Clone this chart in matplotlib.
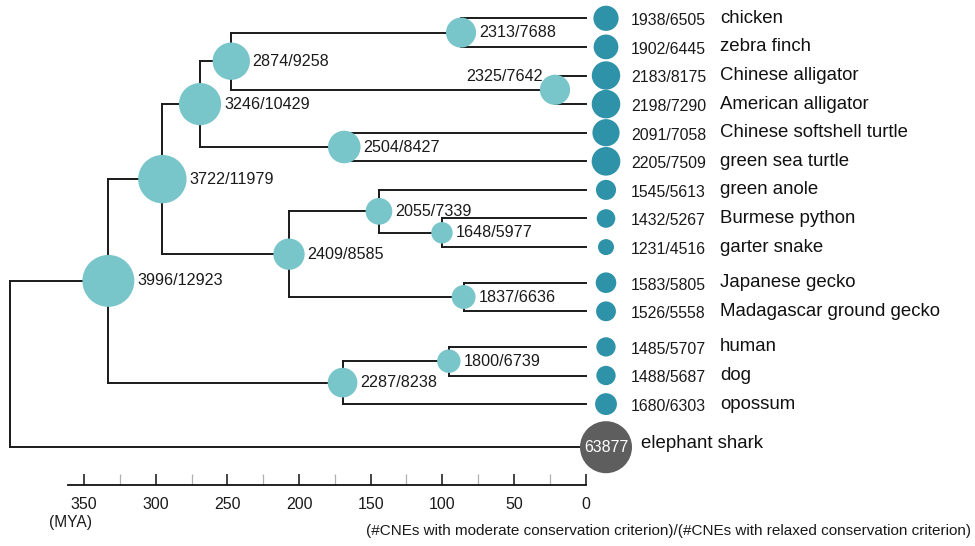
import matplotlib
matplotlib.use("Agg")
import matplotlib.pyplot as plt
from matplotlib.ticker import FixedLocator

plt.rcParams['font.family'] = ['Liberation Sans', 'DejaVu Sans']

# ---------------- data ----------------
leaf_names = ['chicken', 'zebra finch', 'Chinese alligator', 'American alligator',
              'Chinese softshell turtle', 'green sea turtle', 'green anole',
              'Burmese python', 'garter snake', 'Japanese gecko',
              'Madagascar ground gecko', 'human', 'dog', 'opossum']
leaf_moderate = [1938, 1902, 2183, 2198, 2091, 2205, 1545, 1432, 1231, 1583, 1526, 1485, 1488, 1680]
leaf_relaxed = [6505, 6445, 8175, 7290, 7058, 7509, 5613, 5267, 4516, 5805, 5558, 5707, 5687, 6303]

outgroup_name = 'elephant shark'
outgroup_count = 63877

# internal nodes: children, age in MYA, moderate, relaxed
node_names = ['birds', 'crocs', 'archosaurs', 'turtles', 'archelosaurs', 'snakes',
              'toxicofera', 'geckos', 'squamates', 'sauropsids', 'eutherians',
              'mammals', 'amniotes']
node_children = [['chicken', 'zebra finch'],
                 ['Chinese alligator', 'American alligator'],
                 ['birds', 'crocs'],
                 ['Chinese softshell turtle', 'green sea turtle'],
                 ['archosaurs', 'turtles'],
                 ['Burmese python', 'garter snake'],
                 ['green anole', 'snakes'],
                 ['Japanese gecko', 'Madagascar ground gecko'],
                 ['toxicofera', 'geckos'],
                 ['archelosaurs', 'squamates'],
                 ['human', 'dog'],
                 ['eutherians', 'opossum'],
                 ['sauropsids', 'mammals']]
node_age = [86.9, 21.3, 247.3, 168.4, 269.1, 100.2, 144.2, 85.1, 207.0, 295.4, 95.4, 169.6, 333.1]
node_moderate = [2313, 2325, 2874, 2504, 3246, 1648, 2055, 1837, 2409, 3722, 1800, 2287, 3996]
node_relaxed = [7688, 7642, 9258, 8427, 10429, 5977, 7339, 6636, 8585, 11979, 6739, 8238, 12923]

root_age = 401.8
root_children = ['amniotes', outgroup_name]

tick_major = [350, 300, 250, 200, 150, 100, 50, 0]
tick_minor = [325, 275, 225, 175, 125, 75, 25]
axis_unit = '(MYA)'
footnote = '(#CNEs with moderate conservation criterion)/(#CNEs with relaxed conservation criterion)'

# ---------------- styling ----------------
LIGHT = '#78C5CA'
DARK = '#2E92A8'
GREY = '#5E5E5E'
LINE = '#1a1a1a'
LW = 1.4
R_SCALE = 0.0065          # circle radius (px) per CNE (moderate)
OUT_R = 26                # outgroup circle radius (px)
PX_PER_MYA = 1.4324
X0_PX = 585.5             # pixel position of 0 MYA

fig = plt.figure(figsize=(9.75, 5.46), dpi=100)
ax = fig.add_axes([0, 0, 1, 1])
ax.set_xlim(X0_PX / PX_PER_MYA, (X0_PX - 975) / PX_PER_MYA)
ax.set_ylim(546, 0)

def px2mya(dx):
    return dx / PX_PER_MYA

# leaf layout (vertical)
y_pos = {}
step = 28.6
gap_after = {8: 7.0, 10: 7.0}
y = 18.3
for i, nm in enumerate(leaf_names):
    y_pos[nm] = y
    y += step + gap_after.get(i, 0.0)
y_pos[outgroup_name] = y + 14.5

x_pos = {nm: 0.0 for nm in leaf_names}
x_pos[outgroup_name] = 0.0

for nm, ch, age in zip(node_names, node_children, node_age):
    y_pos[nm] = (y_pos[ch[0]] + y_pos[ch[1]]) / 2
    x_pos[nm] = age

def draw_clade(px, ch):
    ys = [y_pos[c] for c in ch]
    ax.plot([px, px], [min(ys), max(ys)], color=LINE, lw=LW, zorder=1,
            solid_capstyle='projecting')
    for c in ch:
        ax.plot([px, x_pos[c]], [y_pos[c], y_pos[c]], color=LINE, lw=LW, zorder=1,
                solid_capstyle='projecting')

for nm, ch in zip(node_names, node_children):
    draw_clade(x_pos[nm], ch)
draw_clade(root_age, root_children)

def s_of(r):
    return (2 * r * 0.72) ** 2

# internal node circles + labels
for nm, mod, rel in zip(node_names, node_moderate, node_relaxed):
    r = R_SCALE * mod
    ax.scatter([x_pos[nm]], [y_pos[nm]], s=s_of(r), color=LIGHT, edgecolors='none', zorder=3)
    if nm == 'crocs':
        ax.annotate(f'{mod}/{rel}', (x_pos[nm], y_pos[nm]), xytext=(-8.5, 9.5),
                    textcoords='offset points', ha='right', va='center', fontsize=11.6,
                    color='#1a1a1a', zorder=4)
    else:
        ax.annotate(f'{mod}/{rel}', (x_pos[nm], y_pos[nm]), xytext=(r * 0.72 + 2.0, 0),
                    textcoords='offset points', ha='left', va='center', fontsize=11.6,
                    color='#1a1a1a', zorder=4)

# leaf circles + labels
leaf_circle_x = -px2mya(20.5)
num_x = -px2mya(631 - X0_PX)
name_x = -px2mya(720 - X0_PX)
for nm, mod, rel in zip(leaf_names, leaf_moderate, leaf_relaxed):
    r = R_SCALE * mod
    ax.scatter([leaf_circle_x], [y_pos[nm]], s=s_of(r), color=DARK, edgecolors='none', zorder=3)
    ax.text(num_x, y_pos[nm] + 2.4, f'{mod}/{rel}', ha='left', va='center',
            fontsize=11.4, color='#1a1a1a')
    ax.text(name_x, y_pos[nm], nm, ha='left', va='center', fontsize=13.4, color='#111111')

# outgroup
ax.scatter([leaf_circle_x], [y_pos[outgroup_name]], s=s_of(OUT_R), color=GREY,
           edgecolors='none', zorder=3)
ax.text(leaf_circle_x, y_pos[outgroup_name], f'{outgroup_count}', ha='center', va='center',
        fontsize=11.4, color='white', zorder=4)
ax.text(-px2mya(640.7 - X0_PX), y_pos[outgroup_name] - 4, outgroup_name, ha='left',
        va='center', fontsize=13.4, color='#111111')

# time axis
for side in ['left', 'right', 'top']:
    ax.spines[side].set_visible(False)
ax.spines['bottom'].set_position(('data', 485))
ax.spines['bottom'].set_bounds(px2mya(X0_PX - 67.7), 0)
ax.spines['bottom'].set_linewidth(1.3)
ax.spines['bottom'].set_color('#111111')
ax.set_xticks(tick_major)
ax.set_xticklabels([str(t) for t in tick_major])
ax.xaxis.set_minor_locator(FixedLocator(tick_minor))
ax.tick_params(axis='x', which='major', direction='in', length=8, width=1.1,
               color='#111111', labelsize=11.5, pad=8.5, labelcolor='#1a1a1a')
ax.tick_params(axis='x', which='minor', direction='in', length=8, width=0.9,
               color='#b0b0b0')
ax.set_yticks([])

ax.text(px2mya(X0_PX - 71), 522, axis_unit, ha='center', va='center', fontsize=11.2,
        color='#1a1a1a')
ax.text(-px2mya(971 - X0_PX), 531, footnote, ha='right', va='center', fontsize=11.0,
        color='#1a1a1a')

fig.savefig('out.png', dpi=100)
